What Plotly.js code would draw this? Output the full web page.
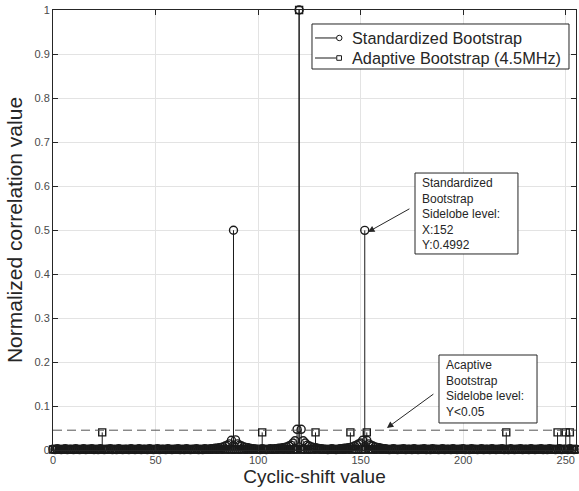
<!DOCTYPE html>
<html>
<head>
<meta charset="utf-8">
<script src="https://cdn.plot.ly/plotly-3.0.1.min.js"></script>
<style>html,body{margin:0;padding:0;background:#fff;}#chart{width:579px;height:491px;}</style>
</head>
<body>
<div id="chart"></div>
<script>
// ---------------- DATA ----------------
const cyclicShift = [
  0,1,2,3,4,5,6,7,8,9,10,11,12,13,14,15,
  16,17,18,19,20,21,22,23,24,25,26,27,28,29,30,31,
  32,33,34,35,36,37,38,39,40,41,42,43,44,45,46,47,
  48,49,50,51,52,53,54,55,56,57,58,59,60,61,62,63,
  64,65,66,67,68,69,70,71,72,73,74,75,76,77,78,79,
  80,81,82,83,84,85,86,87,88,89,90,91,92,93,94,95,
  96,97,98,99,100,101,102,103,104,105,106,107,108,109,110,111,
  112,113,114,115,116,117,118,119,120,121,122,123,124,125,126,127,
  128,129,130,131,132,133,134,135,136,137,138,139,140,141,142,143,
  144,145,146,147,148,149,150,151,152,153,154,155,156,157,158,159,
  160,161,162,163,164,165,166,167,168,169,170,171,172,173,174,175,
  176,177,178,179,180,181,182,183,184,185,186,187,188,189,190,191,
  192,193,194,195,196,197,198,199,200,201,202,203,204,205,206,207,
  208,209,210,211,212,213,214,215,216,217,218,219,220,221,222,223,
  224,225,226,227,228,229,230,231,232,233,234,235,236,237,238,239,
  240,241,242,243,244,245,246,247,248,249,250,251,252,253,254,255
];
const standardizedBootstrap = [
  0.002,0.001,0.003,0.002,0.001,0.002,0.003,0.001,0.002,0.002,0.001,0.003,0.002,0.001,0.002,0.003,
  0.001,0.002,0.002,0.003,0.001,0.002,0.001,0.003,0.002,0.001,0.002,0.002,0.003,0.001,0.002,0.001,
  0.003,0.002,0.001,0.002,0.002,0.001,0.003,0.002,0.001,0.002,0.003,0.001,0.002,0.002,0.001,0.003,
  0.002,0.001,0.002,0.003,0.001,0.002,0.002,0.001,0.003,0.002,0.001,0.002,0.002,0.003,0.001,0.002,
  0.001,0.003,0.002,0.001,0.002,0.002,0.003,0.001,0.002,0.001,0.003,0.002,0.002,0.003,0.003,0.004,
  0.004,0.005,0.006,0.007,0.009,0.011,0.014,0.022,0.4995,0.023,0.014,0.011,0.009,0.007,0.006,0.005,
  0.004,0.003,0.003,0.002,0.002,0.001,0.003,0.002,0.001,0.002,0.003,0.002,0.003,0.003,0.004,0.004,
  0.005,0.006,0.007,0.009,0.011,0.016,0.021,0.047,1.000,0.047,0.021,0.016,0.011,0.009,0.007,0.006,
  0.005,0.004,0.003,0.003,0.002,0.002,0.001,0.002,0.003,0.002,0.001,0.002,0.003,0.003,0.004,0.004,
  0.005,0.006,0.007,0.009,0.011,0.014,0.016,0.022,0.4992,0.022,0.014,0.011,0.009,0.007,0.006,0.005,
  0.004,0.003,0.003,0.002,0.001,0.002,0.003,0.002,0.001,0.002,0.002,0.003,0.001,0.002,0.002,0.001,
  0.003,0.002,0.001,0.002,0.002,0.003,0.001,0.002,0.001,0.003,0.002,0.002,0.001,0.002,0.003,0.001,
  0.002,0.002,0.001,0.003,0.002,0.001,0.002,0.002,0.003,0.001,0.002,0.001,0.003,0.002,0.002,0.001,
  0.002,0.003,0.001,0.002,0.002,0.001,0.003,0.002,0.001,0.002,0.002,0.003,0.001,0.002,0.001,0.003,
  0.002,0.001,0.002,0.002,0.003,0.001,0.002,0.002,0.001,0.003,0.002,0.001,0.002,0.002,0.003,0.001,
  0.002,0.001,0.003,0.002,0.002,0.001,0.002,0.003,0.001,0.002,0.002,0.001,0.003,0.002,0.001,0.002
];
const adaptiveBootstrap = [
  0.001,0.002,0.001,0.001,0.002,0.001,0.002,0.001,0.001,0.002,0.001,0.001,0.002,0.001,0.001,0.002,
  0.001,0.001,0.002,0.001,0.001,0.002,0.001,0.001,0.040,0.001,0.002,0.001,0.001,0.002,0.001,0.001,
  0.002,0.001,0.001,0.002,0.001,0.001,0.002,0.001,0.001,0.002,0.001,0.001,0.002,0.001,0.001,0.002,
  0.001,0.002,0.001,0.001,0.002,0.001,0.001,0.002,0.001,0.001,0.002,0.001,0.002,0.001,0.001,0.002,
  0.001,0.001,0.002,0.001,0.002,0.001,0.001,0.002,0.001,0.001,0.002,0.001,0.001,0.002,0.001,0.001,
  0.002,0.001,0.001,0.002,0.001,0.002,0.001,0.001,0.002,0.001,0.001,0.002,0.001,0.001,0.002,0.001,
  0.001,0.002,0.001,0.001,0.002,0.001,0.040,0.001,0.002,0.001,0.001,0.002,0.001,0.001,0.002,0.001,
  0.002,0.001,0.001,0.002,0.001,0.001,0.002,0.001,1.000,0.001,0.002,0.001,0.001,0.002,0.001,0.001,
  0.040,0.001,0.002,0.001,0.001,0.002,0.001,0.001,0.002,0.001,0.001,0.002,0.001,0.001,0.002,0.001,
  0.001,0.040,0.001,0.002,0.001,0.001,0.002,0.001,0.001,0.040,0.002,0.001,0.001,0.002,0.001,0.001,
  0.002,0.001,0.001,0.002,0.001,0.001,0.002,0.001,0.001,0.002,0.001,0.001,0.002,0.001,0.001,0.002,
  0.001,0.002,0.001,0.001,0.002,0.001,0.001,0.002,0.001,0.001,0.002,0.001,0.002,0.001,0.001,0.002,
  0.001,0.001,0.002,0.001,0.001,0.002,0.001,0.001,0.002,0.001,0.002,0.001,0.001,0.002,0.001,0.001,
  0.002,0.001,0.001,0.002,0.001,0.001,0.002,0.001,0.001,0.002,0.001,0.001,0.002,0.040,0.001,0.002,
  0.001,0.002,0.001,0.001,0.002,0.001,0.001,0.002,0.001,0.001,0.002,0.001,0.001,0.002,0.001,0.001,
  0.002,0.001,0.001,0.002,0.001,0.001,0.040,0.001,0.002,0.001,0.040,0.001,0.040,0.002,0.001,0.001
];
const sidelobeLevel = 0.045;
const seriesNames = ['Standardized Bootstrap', 'Adaptive Bootstrap (4.5MHz)'];
const xTicks = [0, 50, 100, 150, 200, 250];
const yTicks = [0, 0.1, 0.2, 0.3, 0.4, 0.5, 0.6, 0.7, 0.8, 0.9, 1];

// ---------------- BUILD ----------------
function stems(xs, ys) {
  const sx = [], sy = [];
  for (let i = 0; i < xs.length; i++) { sx.push(xs[i], xs[i], null); sy.push(0, ys[i], null); }
  return {sx, sy};
}
const LINE = '#1a1a1a';
const EDGE = '#262626';
const FONT = 'Liberation Sans, Arial, Helvetica, sans-serif';
const s1 = stems(cyclicShift, standardizedBootstrap);
const s2 = stems(cyclicShift, adaptiveBootstrap);

const traces = [
  {x: s1.sx, y: s1.sy, mode: 'lines', name: seriesNames[0], showlegend: false, hoverinfo: 'skip',
   line: {color: LINE, width: 1}, cliponaxis: false},
  {x: cyclicShift, y: standardizedBootstrap, mode: 'markers', name: seriesNames[0], showlegend: false, cliponaxis: false,
   marker: {symbol: 'circle-open', size: 8, color: LINE, line: {width: 1.4}}},
  {x: s2.sx, y: s2.sy, mode: 'lines', name: seriesNames[1], showlegend: false, hoverinfo: 'skip',
   line: {color: LINE, width: 1}, cliponaxis: false},
  {x: cyclicShift, y: adaptiveBootstrap, mode: 'markers', name: seriesNames[1], showlegend: false, cliponaxis: false,
   marker: {symbol: 'square-open', size: 7, color: LINE, line: {width: 1.4}}}
];

const axisCommon = {
  showline: true, linecolor: EDGE, linewidth: 1, mirror: 'ticks',
  ticks: 'inside', ticklen: 5, tickcolor: EDGE, tickwidth: 1,
  showgrid: true, gridcolor: '#e3e3e3', gridwidth: 1, zeroline: false,
  tickfont: {family: FONT, size: 11, color: '#4a4a4a'}
};

// legend box drawn in paper coordinates
const legRows = [0.9364, 0.8909];
const legendShapes = [
  {type: 'rect', xref: 'paper', yref: 'paper', x0: 0.4952, x1: 0.9866, y0: 0.8659, y1: 0.9682,
   line: {color: EDGE, width: 1}, fillcolor: '#ffffff', layer: 'above'},
  {type: 'line', xref: 'paper', yref: 'paper', x0: 0.5010, x1: 0.5421, y0: legRows[0], y1: legRows[0],
   line: {color: LINE, width: 1}, layer: 'above'},
  {type: 'circle', xref: 'paper', yref: 'paper', x0: 0.5421, x1: 0.5526, y0: legRows[0] - 0.0062, y1: legRows[0] + 0.0062,
   line: {color: LINE, width: 1}, fillcolor: '#ffffff', layer: 'above'},
  {type: 'line', xref: 'paper', yref: 'paper', x0: 0.5010, x1: 0.5421, y0: legRows[1], y1: legRows[1],
   line: {color: LINE, width: 1}, layer: 'above'},
  {type: 'rect', xref: 'paper', yref: 'paper', x0: 0.5426, x1: 0.5516, y0: legRows[1] - 0.0052, y1: legRows[1] + 0.0052,
   line: {color: LINE, width: 1}, fillcolor: '#ffffff', layer: 'above'}
];
const legendTexts = seriesNames.map((n, i) => ({
  xref: 'paper', yref: 'paper', x: 0.5679, y: legRows[i], xanchor: 'left', yanchor: 'middle',
  showarrow: false, text: n, font: {family: FONT, size: 16.3, color: EDGE}
}));

const layout = {
  width: 579, height: 491,
  margin: {l: 53, r: 3, t: 10, b: 41},
  paper_bgcolor: '#ffffff', plot_bgcolor: '#ffffff',
  font: {family: FONT, color: EDGE},
  xaxis: Object.assign({}, axisCommon, {
    range: [0, 255], tickvals: xTicks, ticktext: xTicks.map(String),
    title: {text: 'Cyclic-shift value', font: {family: FONT, size: 19, color: EDGE}, standoff: 4}
  }),
  yaxis: Object.assign({}, axisCommon, {
    range: [0, 1], tickvals: yTicks, ticktext: yTicks.map(String),
    title: {text: 'Normalized correlation value', font: {family: FONT, size: 21, color: EDGE}, standoff: 6}
  }),
  showlegend: false,
  shapes: [
    {type: 'line', xref: 'x', yref: 'y', x0: 0, x1: 255, y0: sidelobeLevel, y1: sidelobeLevel,
     line: {color: '#555555', width: 1, dash: '9px,5px'}, layer: 'above'},
    {type: 'rect', xref: 'x', yref: 'y', x0: 176.5, x1: 226.7, y0: 0.4455, y1: 0.6295,
     line: {color: EDGE, width: 1}, fillcolor: '#ffffff', layer: 'above'},
    {type: 'rect', xref: 'x', yref: 'y', x0: 188.2, x1: 236.0, y0: 0.0614, y1: 0.2159,
     line: {color: EDGE, width: 1}, fillcolor: '#ffffff', layer: 'above'}
  ].concat(legendShapes),
  annotations: [
    {xref: 'x', yref: 'y', x: 178.9, y: 0.627, xanchor: 'left', yanchor: 'top', showarrow: false, align: 'left',
     text: 'Standardized<br>Bootstrap<br>Sidelobe level:<br>X:152<br>Y:0.4992',
     font: {family: FONT, size: 12, color: EDGE}},
    {xref: 'x', yref: 'y', x: 190.6, y: 0.213, xanchor: 'left', yanchor: 'top', showarrow: false, align: 'left',
     text: 'Acaptive<br>Bootstrap<br>Sidelobe level:<br>Y&lt;0.05',
     font: {family: FONT, size: 12, color: EDGE}},
    {xref: 'x', yref: 'y', axref: 'x', ayref: 'y', x: 153.6, y: 0.4955, ax: 174.5, ay: 0.55,
     text: '', showarrow: true, arrowhead: 2, arrowsize: 1.3, arrowwidth: 1, arrowcolor: EDGE, standoff: 0},
    {xref: 'x', yref: 'y', axref: 'x', ayref: 'y', x: 162.8, y: 0.05, ax: 186.2, ay: 0.1295,
     text: '', showarrow: true, arrowhead: 2, arrowsize: 1.3, arrowwidth: 1, arrowcolor: EDGE, standoff: 0}
  ].concat(legendTexts)
};

Plotly.newPlot('chart', traces, layout, {displayModeBar: false, staticPlot: true});
</script>
</body>
</html>
